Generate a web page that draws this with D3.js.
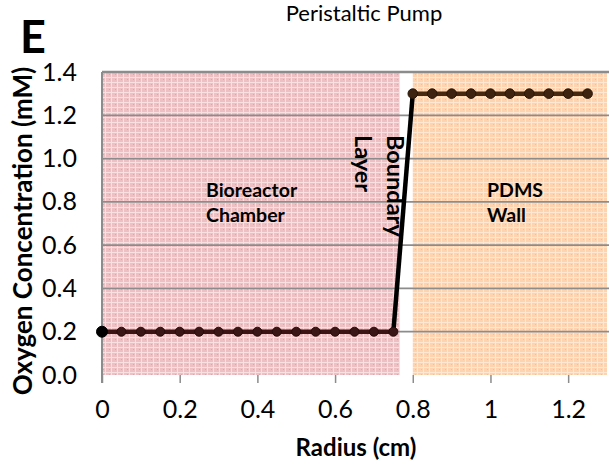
<!DOCTYPE html>
<html>
<head>
<meta charset="utf-8">
<script src="https://cdn.jsdelivr.net/npm/d3@7"></script>
<style>
    body { margin: 0; background: #fff; }
    svg { display: block; font-family: Lato, "Open Sans", sans-serif; }
</style>
</head>
<body>
<svg id="svg1" width="610" height="466"></svg>
<script>
"use strict";

// radius (cm) and oxygen (mM) for the three parts of the profile
let chamberX = [0, 0.05, 0.1, 0.15, 0.2, 0.25, 0.3, 0.35, 0.4, 0.45, 0.5, 0.55, 0.6, 0.65, 0.7, 0.75];
let chamberY = [0.2, 0.2, 0.2, 0.2, 0.2, 0.2, 0.2, 0.2, 0.2, 0.2, 0.2, 0.2, 0.2, 0.2, 0.2, 0.2];
let boundaryX = [0.75, 0.8];
let boundaryY = [0.2, 1.3];
let wallX = [0.8, 0.85, 0.9, 0.95, 1.0, 1.05, 1.1, 1.15, 1.2, 1.25];
let wallY = [1.3, 1.3, 1.3, 1.3, 1.3, 1.3, 1.3, 1.3, 1.3, 1.3];

// shaded zones (radius start / end)
let zoneStart = [0, 0.8];
let zoneEnd = [0.767, 1.3];

let xTicks = [0, 0.2, 0.4, 0.6, 0.8, 1, 1.2];
let yTicks = [0, 0.2, 0.4, 0.6, 0.8, 1.0, 1.2, 1.4];

let svg = d3.select("#svg1");
let marginLeft = 102, marginTop = 72, plotRight = 607, plotBottom = 375;

let x = d3.scaleLinear().domain([0, 1.3]).range([marginLeft, plotRight]);
let y = d3.scaleLinear().domain([0, 1.4]).range([plotBottom, marginTop]);

// plaid fill patterns like the excel texture
let defs = svg.append("defs");
function addPattern(id, base, light, dark) {
    let p = defs.append("pattern").attr("id", id).attr("patternUnits", "userSpaceOnUse")
        .attr("width", 6).attr("height", 5);
    p.append("rect").attr("width", 6).attr("height", 5).attr("fill", base);
    p.append("rect").attr("x", 0).attr("y", 2).attr("width", 6).attr("height", 1).attr("fill", light);
    p.append("rect").attr("x", 3).attr("y", 0).attr("width", 1).attr("height", 5).attr("fill", light);
    p.append("rect").attr("x", 1).attr("y", 4).attr("width", 1).attr("height", 1).attr("fill", dark);
}
addPattern("pinkFill", "#eec0c3", "#f8dfe0", "#dca6aa");
addPattern("orangeFill", "#fdd3b0", "#fee7d3", "#f4bf98");

let zoneFills = ["url(#pinkFill)", "url(#orangeFill)"];
svg.append("g").selectAll("rect").data(zoneStart).enter().append("rect")
    .attr("x", (d, i) => x(d))
    .attr("y", y(1.4))
    .attr("width", (d, i) => x(zoneEnd[i]) - x(d))
    .attr("height", y(0) - y(1.4))
    .attr("fill", (d, i) => zoneFills[i]);

// horizontal gridlines
svg.append("g").selectAll("line").data(yTicks.filter(d => d > 0)).enter().append("line")
    .attr("x1", marginLeft).attr("x2", plotRight + 2)
    .attr("y1", d => y(d)).attr("y2", d => y(d))
    .attr("stroke", "#8c8c8c").attr("stroke-width", d => d === 1.4 ? 2.5 : 1.8);

// y axis line
svg.append("line").attr("x1", marginLeft).attr("x2", marginLeft)
    .attr("y1", marginTop).attr("y2", plotBottom + 8)
    .attr("stroke", "#8c8c8c").attr("stroke-width", 2);

// x axis: ticks below the plot and labels
let xAxis = svg.append("g").attr("transform", `translate(0,${plotBottom})`)
    .call(d3.axisBottom(x).tickValues(xTicks).tickSize(8).tickPadding(17).tickFormat(d3.format("")));
xAxis.select(".domain").remove();
xAxis.selectAll(".tick line").attr("stroke", "#8c8c8c").attr("stroke-width", 1.5);
xAxis.selectAll(".tick text").attr("font-size", 25).attr("fill", "#000").attr("font-family", "Lato");

// y axis labels
let yAxis = svg.append("g").attr("transform", `translate(${marginLeft},0)`)
    .call(d3.axisLeft(y).tickValues(yTicks).tickSize(0).tickPadding(25).tickFormat(d3.format(".1f")));
yAxis.select(".domain").remove();
yAxis.selectAll(".tick text").attr("font-size", 25).attr("fill", "#000").attr("font-family", "Lato");

// series lines
let line = d3.line().x(d => x(d[0])).y(d => y(d[1]));
let chamber = d3.zip(chamberX, chamberY);
let boundary = d3.zip(boundaryX, boundaryY);
let wall = d3.zip(wallX, wallY);

svg.append("path").datum(chamber).attr("d", line).attr("fill", "none")
    .attr("stroke", "#3c1414").attr("stroke-width", 4.5);
svg.append("path").datum(wall).attr("d", line).attr("fill", "none")
    .attr("stroke", "#45280f").attr("stroke-width", 4.5);
svg.append("path").datum(boundary).attr("d", line).attr("fill", "none")
    .attr("stroke", "#000").attr("stroke-width", 4.5);

svg.append("g").selectAll("circle").data(chamber).enter().append("circle")
    .attr("cx", d => x(d[0])).attr("cy", d => y(d[1]))
    .attr("r", (d, i) => i === 0 ? 5.5 : 4.5)
    .attr("fill", (d, i) => i === 0 ? "#000" : "#3a1616")
    .attr("stroke", (d, i) => i === 0 ? "#000" : "#2a0b0b").attr("stroke-width", 1);
svg.append("g").selectAll("circle").data(wall).enter().append("circle")
    .attr("cx", d => x(d[0])).attr("cy", d => y(d[1]))
    .attr("r", 4.8).attr("fill", "#3e2410").attr("stroke", "#2a1608").attr("stroke-width", 1);

// zone labels
function label(lines, px, py) {
    let t = svg.append("text").attr("font-weight", "bold").attr("font-size", 19.5).attr("fill", "#000");
    lines.forEach((s, i) => {
        t.append("tspan").attr("x", px).attr("y", py + i * 25).text(s);
    });
}
label(["Bioreactor", "Chamber"], 206, 197);
label(["PDMS", "Wall"], 487, 197);

let bl = svg.append("text").attr("font-weight", "bold").attr("font-size", 23.5).attr("fill", "#000")
    .attr("transform", "translate(387,135) rotate(90)");
bl.append("tspan").attr("x", 0).attr("y", 0).text("Boundary");
bl.append("tspan").attr("x", 0).attr("y", 32).text("Layer");

// axis titles, chart title, panel letter
svg.append("text").attr("x", 356).attr("y", 456).attr("text-anchor", "middle")
    .attr("font-weight", "bold").attr("font-size", 24).text("Radius (cm)");
svg.append("text").attr("transform", "translate(32,231) rotate(-90)").attr("text-anchor", "middle")
    .attr("font-weight", "bold").attr("font-size", 26).text("Oxygen Concentration (mM)");
svg.append("text").attr("x", 364).attr("y", 21).attr("text-anchor", "middle")
    .attr("font-size", 22).text("Peristaltic Pump");
svg.append("text").attr("x", 20).attr("y", 53).attr("font-weight", "bold")
    .attr("font-size", 45).text("E");
</script>
</body>
</html>
